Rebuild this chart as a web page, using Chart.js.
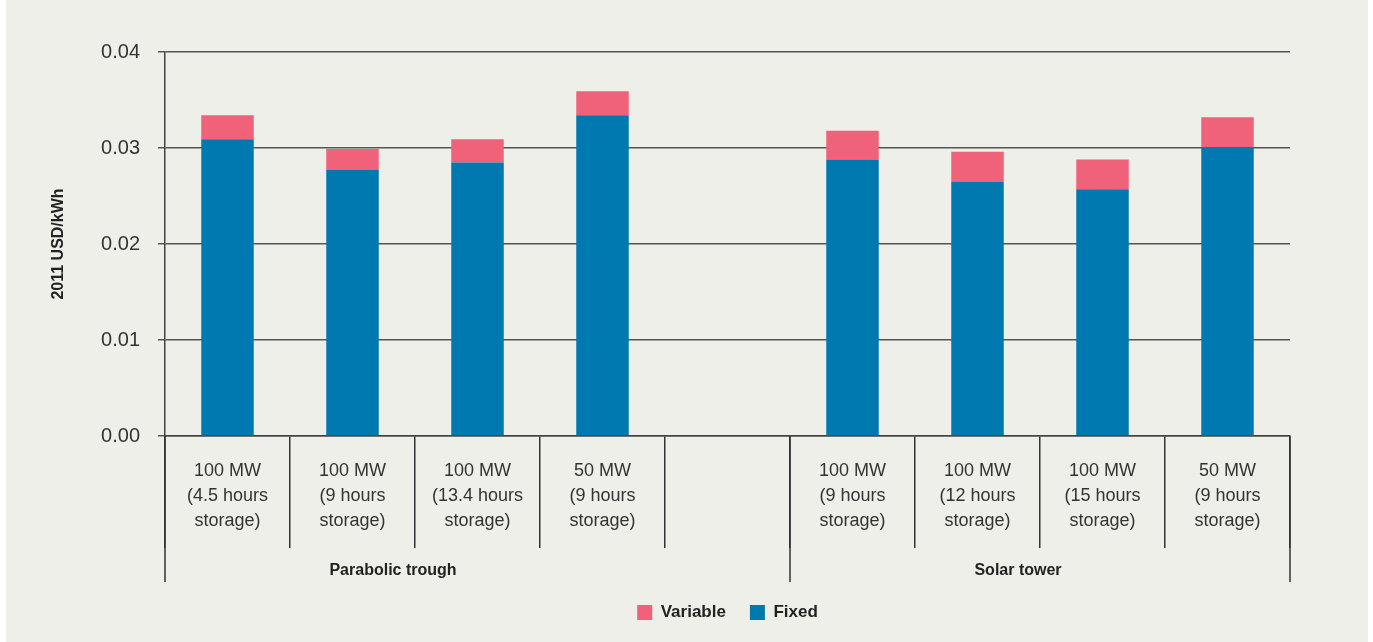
<!DOCTYPE html>
<html>
<head>
<meta charset="utf-8">
<script src="https://cdn.jsdelivr.net/npm/chart.js@4.4.0/dist/chart.umd.min.js"></script>
<style>
  html, body { margin: 0; padding: 0; background: #ffffff; }
  #wrap { position: absolute; left: 6px; top: 0; width: 1362px; height: 642px; background: #efefe9; }
</style>
</head>
<body>
<div id="wrap"><canvas id="lcoe-chart"></canvas></div>
<script>
// categories (empty slot separates the two technologies)
var categories = [
    ['100 MW', '(4.5 hours', 'storage)'],
    ['100 MW', '(9 hours', 'storage)'],
    ['100 MW', '(13.4 hours', 'storage)'],
    ['50 MW', '(9 hours', 'storage)'],
    '',
    ['100 MW', '(9 hours', 'storage)'],
    ['100 MW', '(12 hours', 'storage)'],
    ['100 MW', '(15 hours', 'storage)'],
    ['50 MW', '(9 hours', 'storage)']
];
var fixedCost = [0.0309, 0.0277, 0.0285, 0.0334, null, 0.0288, 0.0265, 0.0257, 0.0301];
var variableCost = [0.0025, 0.0022, 0.0024, 0.0025, null, 0.0030, 0.0031, 0.0031, 0.0031];
var groupNames = ['Parabolic trough', 'Solar tower'];
var groupFirst = [0, 5];
var groupLast = [3, 8];
var groupEdges = [-0.5, 4.5, 8.5];
var yMin = 0, yMax = 0.04, yStep = 0.01;

var FONT = "'Liberation Sans', Arial, sans-serif";

/* group labels + long separators below the axis */
var groupPlugin = {
    id: 'groups',
    afterDraw: function (chart) {
        var ctx = chart.ctx;
        var xs = chart.scales.x;
        var bottom = chart.chartArea.bottom;
        ctx.save();
        ctx.strokeStyle = '#333333';
        ctx.lineWidth = 1.5;
        groupEdges.forEach(function (v) {
            var px = Math.round(xs.getPixelForValue(v));
            ctx.beginPath();
            ctx.moveTo(px, bottom);
            ctx.lineTo(px, bottom + 146);
            ctx.stroke();
        });
        ctx.fillStyle = '#222222';
        ctx.font = 'bold 16px ' + FONT;
        ctx.textAlign = 'center';
        ctx.textBaseline = 'middle';
        groupNames.forEach(function (name, i) {
            var mid = (groupFirst[i] + groupLast[i]) / 2;
            ctx.fillText(name, xs.getPixelForValue(mid) - 22, bottom + 135);
        });
        ctx.restore();
    }
};

new Chart(document.getElementById('lcoe-chart'), {
    type: 'bar',
    data: {
        labels: categories,
        datasets: [{
            label: 'Fixed',
            data: fixedCost,
            backgroundColor: '#0079b0',
            barPercentage: 0.42,
            categoryPercentage: 1
        }, {
            label: 'Variable',
            data: variableCost,
            backgroundColor: '#f0627a',
            barPercentage: 0.42,
            categoryPercentage: 1
        }]
    },
    options: {
        responsive: true,
        maintainAspectRatio: false,
        animation: false,
        layout: { padding: { left: 0, right: 78, top: 52, bottom: 11 } },
        plugins: {
            tooltip: { enabled: false },
            legend: {
                position: 'bottom',
                fullSize: false,
                reverse: true,
                labels: {
                    boxWidth: 15,
                    boxHeight: 15,
                    padding: 24,
                    color: '#222222',
                    font: { family: FONT, size: 17, weight: 'bold' }
                }
            }
        },
        scales: {
            x: {
                stacked: true,
                afterFit: function (scale) { scale.height = 144; },
                border: { color: '#444444', width: 1.5 },
                grid: {
                    offset: true,
                    drawOnChartArea: false,
                    drawTicks: true,
                    tickLength: 112,
                    color: '#333333',
                    lineWidth: 1.5
                },
                ticks: {
                    autoSkip: false,
                    maxRotation: 0,
                    padding: -90,
                    color: '#333333',
                    font: { family: FONT, size: 18, lineHeight: 1.4 }
                }
            },
            y: {
                stacked: true,
                min: yMin,
                max: yMax,
                afterFit: function (scale) { scale.width = 159; },
                border: { color: '#444444', width: 1.5 },
                grid: {
                    color: '#555555',
                    lineWidth: 1.5,
                    drawTicks: true,
                    tickLength: 7
                },
                ticks: {
                    stepSize: yStep,
                    padding: 18,
                    color: '#333333',
                    font: { family: FONT, size: 20 },
                    callback: function (v) { return v.toFixed(2); }
                },
                title: {
                    display: true,
                    text: '2011 USD/kWh',
                    color: '#222222',
                    padding: { top: 43, bottom: 0 },
                    font: { family: FONT, size: 16, weight: 'bold' }
                }
            }
        }
    },
    plugins: [groupPlugin]
});
</script>
</body>
</html>
